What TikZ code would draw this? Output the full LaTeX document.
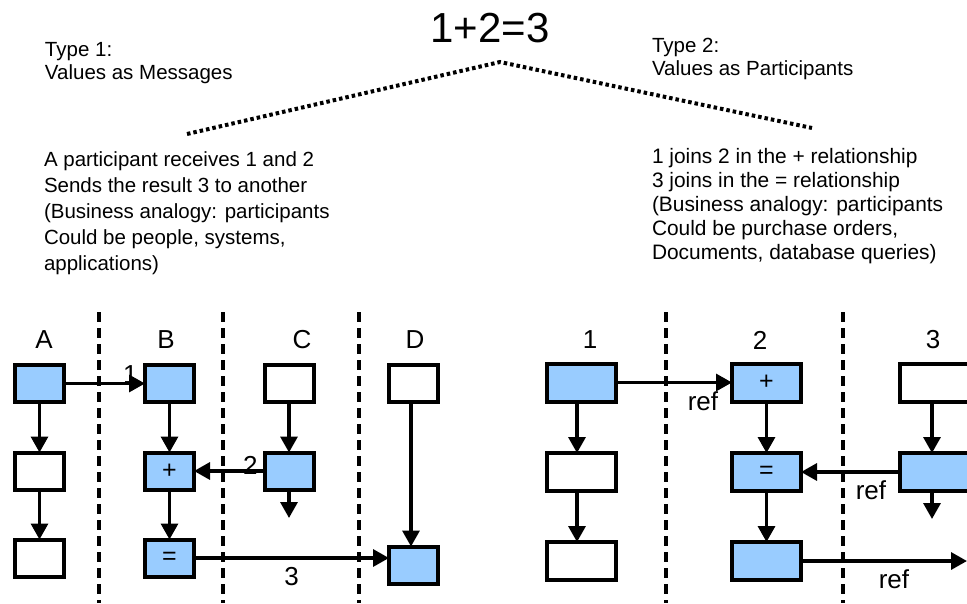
\documentclass[tikz,border=0pt]{standalone}
\usepackage{fontspec}
\setmainfont{Liberation Sans}
\usetikzlibrary{arrows.meta}
\definecolor{valblue}{HTML}{99CCFF}
\begin{document}
\begin{tikzpicture}[x=1pt,y=-1pt,
  every node/.style={inner sep=0pt,outer sep=0pt},
  sbox/.style={draw=black,line width=4pt,fill=white,minimum width=49pt,minimum height=37pt,font=\fontsize{25}{25}\selectfont},
  wbox/.style={sbox,minimum width=69pt,minimum height=38pt},
  hot/.style={fill=valblue},
  flow/.style={line width=3.3pt,-{Triangle[length=16pt,width=17pt]}},
  lane/.style={line width=3.8pt,dash pattern=on 10pt off 6pt},
  lbl/.style={font=\fontsize{26}{26}\selectfont},
  para/.style={anchor=north west,align=left,font=\fontsize{20.5}{25.8}\selectfont},
  parb/.style={anchor=north west,align=left,font=\fontsize{20.9}{24.2}\selectfont},
  head/.style={anchor=north west,align=left,font=\fontsize{20.5}{23}\selectfont},
  dots/.style={line width=4pt,dash pattern=on 3.5pt off 3pt}
]
\useasboundingbox (0,0) rectangle (967,603);

% ---- heading and the two branches ----
\node[font=\fontsize{42}{42}\selectfont,anchor=base] (eq) at (490,42) {1+2=3};
\coordinate (apex) at (500,62);
\coordinate (lend) at (187,134);
\coordinate (rend) at (812,128);
\draw[dots] (lend) -- (apex) -- (rend);

\node[head] (t1) at (45,42) {Type 1:\\Values as Messages};
\node[head] (t2) at (652,38) {Type 2:\\Values as Participants};

\node[para] (d1) at (44,152) {A participant receives 1 and 2\\Sends the result 3 to another\\(Business analogy: participants\\Could be people, systems,\\applications)};
\node[parb] (d2) at (652,148) {1 joins 2 in the + relationship\\3 joins in the = relationship\\(Business analogy: participants\\Could be purchase orders,\\Documents, database queries)};

% ---- values as messages ----
\draw[lane] (99,312) -- (99,603);
\draw[lane] (223,312) -- (223,603);
\draw[lane] (359,312) -- (359,603);

\node[lbl] (la) at (44,340) {A};
\node[lbl] (lb) at (166,340) {B};
\node[lbl] (lc) at (302,340) {C};
\node[lbl] (ld) at (415,340) {D};

\node[sbox,hot] (a1) at (39.5,383.5) {};
\node[sbox] (a2) at (39.5,471) {};
\node[sbox] (a3) at (39.5,558) {};
\node[sbox,hot] (b1) at (169.5,383.5) {};
\node[sbox,hot] (b2) at (169.5,471) {+};
\node[sbox,hot] (b3) at (169.5,558) {=};
\node[sbox] (c1) at (289,383.5) {};
\node[sbox,hot] (c2) at (289,471) {};
\node[sbox] (dd1) at (413.5,383.5) {};
\node[sbox,hot] (dd2) at (413.5,565) {};
\coordinate (cdown) at (289,518);

\draw[flow] (a1) -- (a2);
\draw[flow] (a2) -- (a3);
\draw[flow] (b1) -- (b2);
\draw[flow] (b2) -- (b3);
\draw[flow] (c1) -- (c2);
\draw[flow] (c2) -- (cdown);
\draw[flow] (dd1.south -| 411,0) -- (dd2.north -| 411,0);
\draw[flow] (a1) -- (b1) node[lbl,pos=0.82,above=0pt] (m1) {1};
\draw[flow] (c2) -- (b2) node[lbl,pos=0.2,above=-3pt] (m2) {2};
\draw[flow] (b3.east) -- (b3.east -| dd2.west) node[lbl,pos=0.5,below=9pt] (m3) {3};

% ---- values as participants ----
\draw[lane] (666,312) -- (666,603);
\draw[lane] (843,312) -- (843,603);

\node[lbl] (p1) at (590,340) {1};
\node[lbl] (p2) at (760,340) {2};
\node[lbl] (p3) at (933,340) {3};

\node[wbox,hot] (r1a) at (581.5,382.5) {};
\node[wbox] (r1b) at (581.5,472) {};
\node[wbox] (r1c) at (581.5,561) {};
\node[wbox,hot] (r2a) at (766.5,382.5) {+};
\node[wbox,hot] (r2b) at (766.5,472) {=};
\node[wbox,hot] (r2c) at (766.5,561) {};
\node[wbox] (r3a) at (934,382.5) {};
\node[wbox,hot] (r3b) at (934,472) {};
\coordinate (rdown) at (932,519);
\coordinate (rout) at (967,561);

\draw[flow] (r1a.south -| 577,0) -- (r1b.north -| 577,0);
\draw[flow] (r1b.south -| 577,0) -- (r1c.north -| 577,0);
\draw[flow] (r2a) -- (r2b);
\draw[flow] (r2b) -- (r2c);
\draw[flow] (r3a.south -| 932,0) -- (r3b.north -| 932,0);
\draw[flow] (r3b.south -| 932,0) -- (rdown);
\draw[flow] (r1a) -- (r2a) node[lbl,pos=0.75,below=9pt] (f1) {ref};
\draw[flow] (r3b) -- (r2b) node[lbl,pos=0.29,below=9pt] (f2) {ref};
\draw[flow] (r2c) -- (rout) node[lbl,pos=0.56,below=9pt] (f3) {ref};
\end{tikzpicture}
\end{document}
